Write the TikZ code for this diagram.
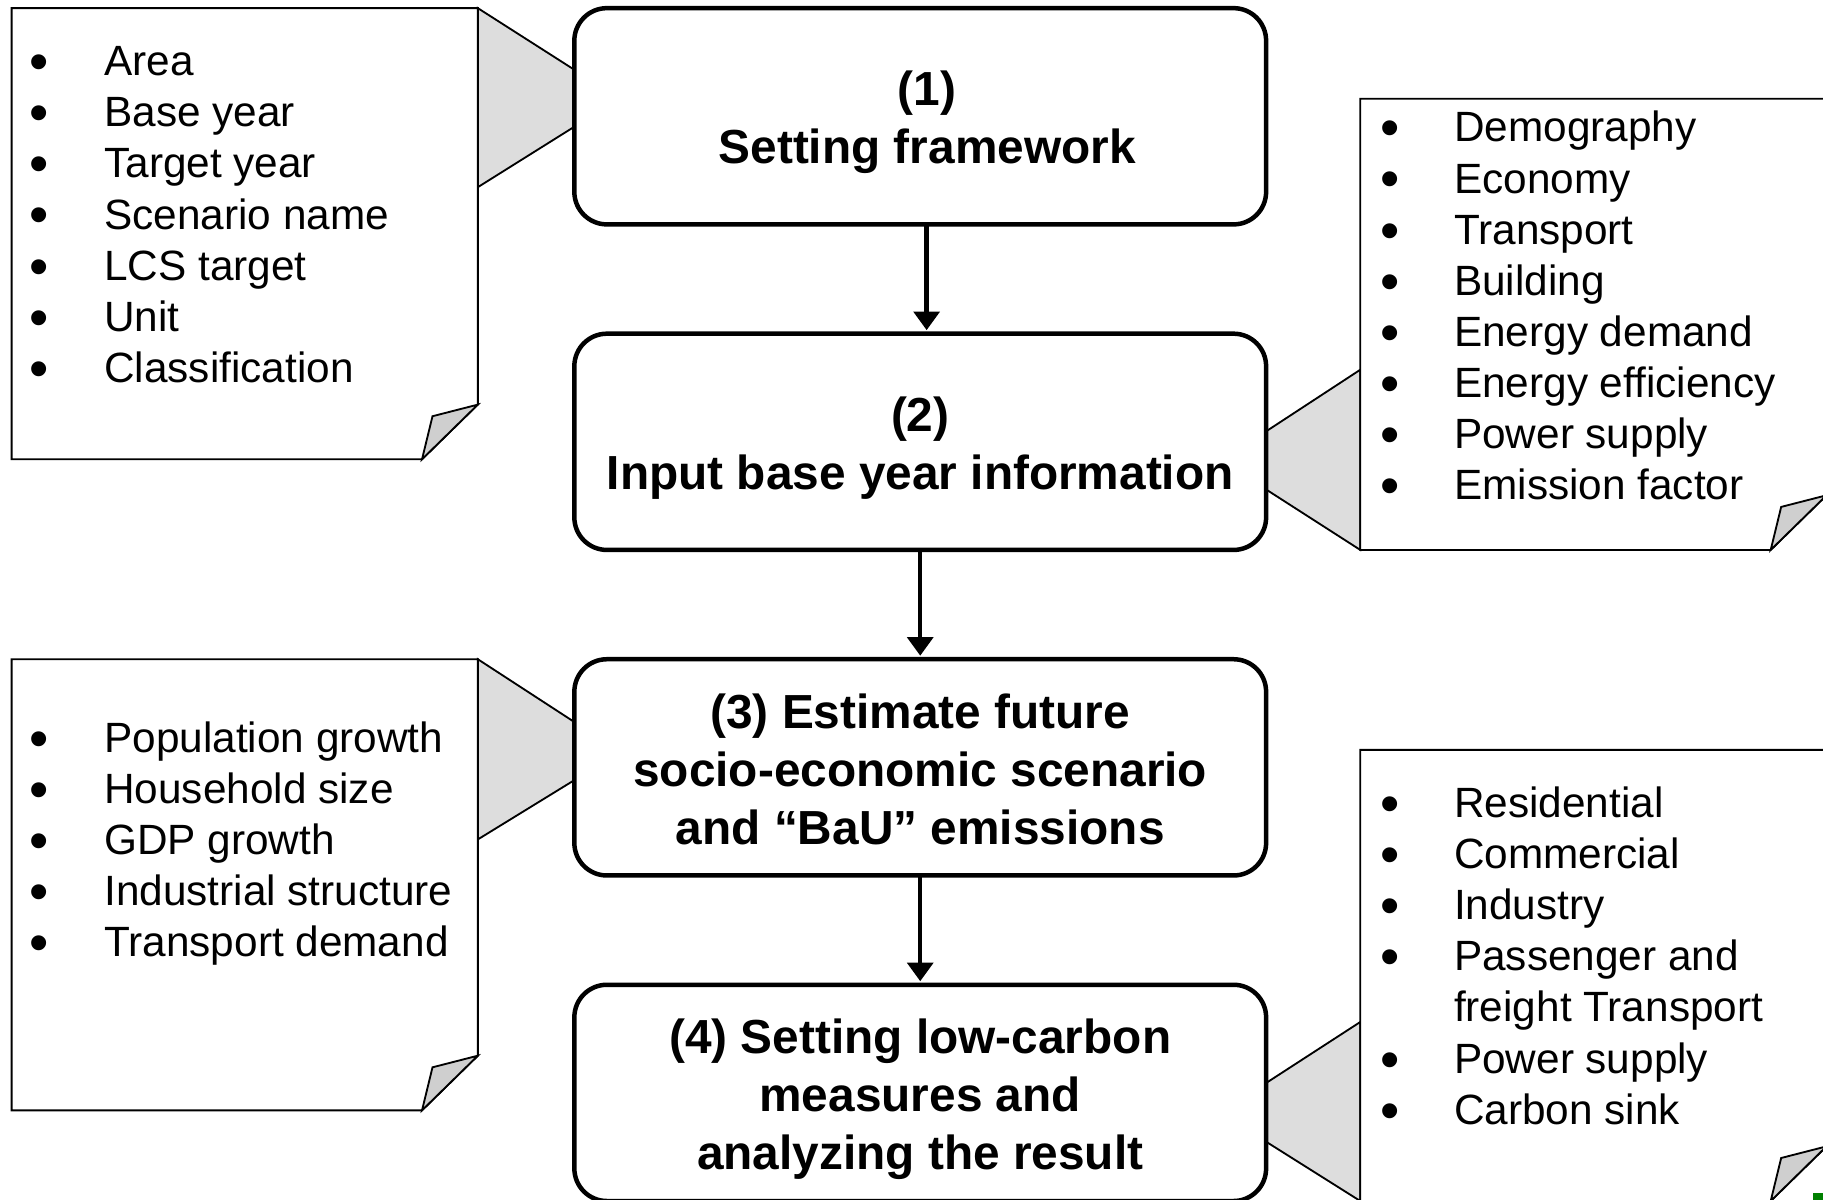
\documentclass[tikz,border=0pt]{standalone}
\usepackage{fontspec}
\setmainfont{Liberation Sans}
\usetikzlibrary{positioning,arrows.meta}

\newcommand{\listbullet}{\raisebox{-1.2pt}{\scalebox{1.3}{\textbullet}}}
\newcommand{\steptop}[1][11.4pt]{\rule{0pt}{#1}}

\begin{document}
\begin{tikzpicture}[
    flowbox/.style={draw, line width=1.1pt, rounded corners=0.28cm, fill=white,
      minimum width=5.95cm, minimum height=1.86cm, outer sep=0pt, align=center,
      font=\fontsize{11.7}{14.2}\selectfont\bfseries},
    flowarrow/.style={line width=1.1pt, shorten >=0.03cm,
      -{Triangle[width=0.22cm,length=0.16cm]}},
    calloutsheet/.style={draw, line width=0.45pt, fill=white},
    foldflap/.style={draw, line width=0.45pt, fill=gray!38},
    wedge/.style={draw, line width=0.45pt, fill=gray!27},
    listitem/.style={anchor=base west, inner sep=0pt,
      font=\fontsize{10.36}{12.5}\selectfont}]
  \useasboundingbox (0,0) rectangle (15.68,10.32);
  \clip (0,0) rectangle (15.68,10.32);

  % wedges joining the sheets to the steps
  \draw[wedge] (4.11,10.25) -- (4.94,9.72) -- (4.94,9.23) -- (4.11,8.71) -- cycle;
  \draw[wedge] (4.11,4.65) -- (4.94,4.11) -- (4.94,3.61) -- (4.11,3.10) -- cycle;
  \draw[wedge] (10.89,6.61) -- (11.70,7.14) -- (11.70,5.59) -- (10.89,6.11) -- cycle;
  \draw[wedge] (10.89,1.005) -- (11.70,1.53) -- (11.70,-0.01) -- (10.89,0.50) -- cycle;

  % sheets with a folded corner
  \draw[calloutsheet] (0.10,10.25) -- (4.11,10.25) -- (4.11,6.84) -- (3.63,6.37) -- (0.10,6.37) -- cycle;
  \draw[foldflap] (4.11,6.84) -- (3.72,6.74) -- (3.63,6.37) -- cycle;
  \draw[calloutsheet] (0.10,4.65) -- (4.11,4.65) -- (4.11,1.24) -- (3.63,0.77) -- (0.10,0.77) -- cycle;
  \draw[foldflap] (4.11,1.24) -- (3.72,1.14) -- (3.63,0.77) -- cycle;
  \draw[calloutsheet] (11.70,9.47) -- (15.71,9.47) -- (15.71,6.06) -- (15.23,5.59) -- (11.70,5.59) -- cycle;
  \draw[foldflap] (15.71,6.06) -- (15.32,5.96) -- (15.23,5.59) -- cycle;
  \draw[calloutsheet] (11.70,3.87) -- (15.71,3.87) -- (15.71,0.46) -- (15.23,-0.01) -- (11.70,-0.01) -- cycle;
  \draw[foldflap] (15.71,0.46) -- (15.32,0.36) -- (15.23,-0.01) -- cycle;

  % the four steps
  \node[flowbox] (frame) at (7.915,9.32) {\steptop\hspace{0.12cm}(1)\\\hspace{0.12cm}Setting framework};
  \node[flowbox, below=0.94cm of frame] (input) {\steptop(2)\\Input base year information};
  \node[flowbox, below=0.94cm of input] (future) {\steptop[9.7pt](3) Estimate future\\socio-economic scenario\\and “BaU” emissions};
  \node[flowbox, below=0.94cm of future] (measures) {\steptop(4) Setting low-carbon\\measures and\\analyzing the result};

  \draw[flowarrow] ([xshift=0.055cm]frame.south) -- ([xshift=0.055cm]input.north);
  \draw[flowarrow] (input) -- (future);
  \draw[flowarrow] (future) -- (measures);

  % list of the framework sheet
  \foreach \t [count=\i from 0] in {Area, Base year, Target year, Scenario name, LCS target, Unit, Classification} {
    \node[listitem] (frmdot\i) at (0.25,{9.67-0.44*\i}) {\listbullet};
    \node[listitem] (frm\i) at (0.89,{9.67-0.44*\i}) {\t};
  }
  % list of the base year sheet
  \foreach \t [count=\i from 0] in {Demography, Economy, Transport, Building, Energy demand, Energy efficiency, Power supply, Emission factor} {
    \node[listitem] (basdot\i) at (11.87,{9.10-0.44*\i}) {\listbullet};
    \node[listitem] (bas\i) at (12.50,{9.10-0.44*\i}) {\t};
  }
  % list of the scenario sheet
  \foreach \t [count=\i from 0] in {Population growth, Household size, GDP growth, Industrial structure, Transport demand} {
    \node[listitem] (scndot\i) at (0.25,{3.85-0.44*\i}) {\listbullet};
    \node[listitem] (scn\i) at (0.89,{3.85-0.44*\i}) {\t};
  }
  % list of the measures sheet
  \foreach \t [count=\i from 0] in {Residential, Commercial, Industry, Passenger and, freight Transport, Power supply, Carbon sink}
    \node[listitem] (msr\i) at (12.50,{3.29-0.44*\i}) {\t};
  \foreach \i in {0,1,2,3,5,6}
    \node[listitem] (msrdot\i) at (11.87,{3.29-0.44*\i}) {\listbullet};

  % corner mark
  \fill[green!50!black] (15.595,0) rectangle (15.68,0.06);
\end{tikzpicture}
\end{document}
